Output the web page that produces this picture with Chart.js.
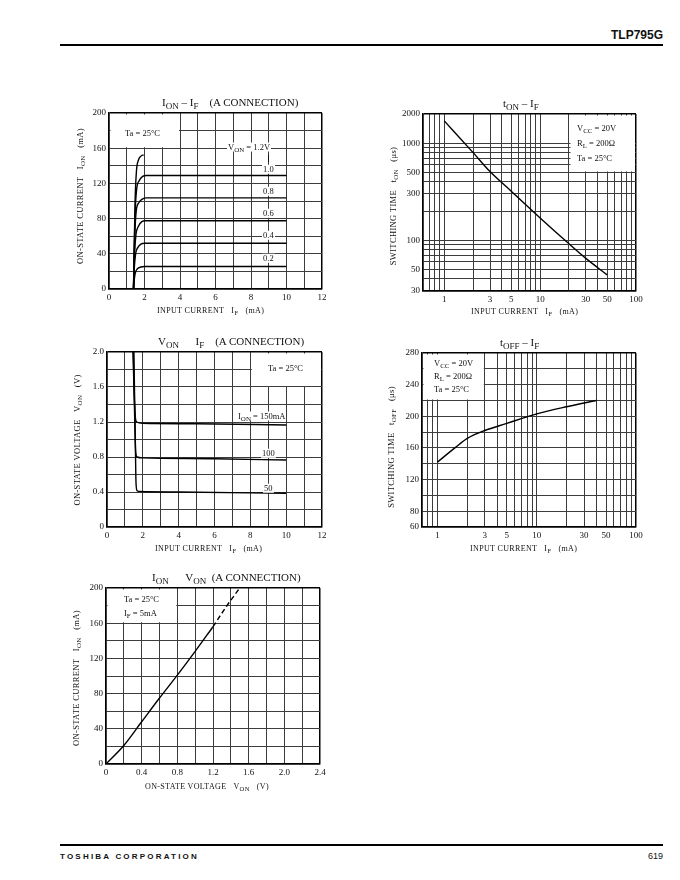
<!DOCTYPE html>
<html>
<head>
<meta charset="utf-8">
<script src="https://cdn.jsdelivr.net/npm/chart.js@4.4.1/dist/chart.umd.min.js"></script>
<style>
  html, body { margin: 0; padding: 0; background: #fff; }
  body { width: 680px; height: 880px; position: relative; overflow: hidden;
         font-family: "Liberation Serif", serif; color: #111; }
  canvas { position: absolute; }
  .abs  { position: absolute; white-space: nowrap; line-height: 1; }
  .ttl  { font-size: 11px; transform: translateY(-50%); }
  .xt   { font-size: 8px; letter-spacing: 0.35px; transform: translateY(-50%); }
  .yt   { font-size: 8.5px; letter-spacing: 0.35px; transform: translate(-50%, -50%) rotate(-90deg); }
  .note { font-size: 8.5px; transform: translateY(-50%); background: #fff; padding: 0 1px; }
  .s    { font-size: 0.82em; position: relative; top: 0.3em; }
  .rule { position: absolute; left: 60px; width: 603px; height: 2px; background: #000; }
  .head { position: absolute; right: 17px; top: 28px; font: bold 12px "Liberation Sans", sans-serif; }
  .foot { position: absolute; left: 60px; top: 852px; font: bold 8px "Liberation Sans", sans-serif; letter-spacing: 2.2px; }
  .page { position: absolute; right: 17px; top: 851px; font: 9px "Liberation Sans", sans-serif; }
</style>
</head>
<body>

<div class="head">TLP795G</div>
<div class="rule" style="top:44px"></div>
<div class="rule" style="top:844px"></div>
<div class="foot">TOSHIBA CORPORATION</div>
<div class="page">619</div>

<canvas id="c1" width="269" height="210" style="left:69px;top:103px"></canvas>
<canvas id="c2" width="269" height="211" style="left:383px;top:104px"></canvas>
<canvas id="c3" width="271" height="209" style="left:67px;top:342px"></canvas>
<canvas id="c4" width="270" height="208" style="left:382px;top:343px"></canvas>
<canvas id="c5" width="270" height="210" style="left:66px;top:578px"></canvas>

<!-- chart 1 text -->
<div class="abs ttl" style="left:162px;top:103px">I<span class="s">ON</span> – I<span class="s">F</span>&nbsp;&nbsp;&nbsp;&nbsp;(A CONNECTION)</div>
<div class="abs xt" style="left:157px;top:311px">INPUT CURRENT&nbsp;&nbsp;&nbsp;I<span class="s">F</span>&nbsp;&nbsp;&nbsp;(mA)</div>
<div class="abs yt" style="left:80px;top:196px">ON-STATE CURRENT&nbsp;&nbsp;&nbsp;I<span class="s">ON</span>&nbsp;&nbsp;&nbsp;(mA)</div>
<div class="abs note" style="left:124px;top:133px">Ta = 25°C</div>
<div class="abs note" style="left:227px;top:147px">V<span class="s">ON</span> = 1.2V</div>
<div class="abs" style="left:268px;top:155px;width:1px;height:7px;background:#111"></div>
<div class="abs note" style="left:262px;top:169px">1.0</div>
<div class="abs note" style="left:262px;top:191px">0.8</div>
<div class="abs note" style="left:262px;top:213px">0.6</div>
<div class="abs note" style="left:262px;top:235px">0.4</div>
<div class="abs note" style="left:262px;top:258px">0.2</div>

<!-- chart 2 text -->
<div class="abs ttl" style="left:503px;top:104px">t<span class="s">ON</span> – I<span class="s">F</span></div>
<div class="abs xt" style="left:471px;top:312px">INPUT CURRENT&nbsp;&nbsp;&nbsp;I<span class="s">F</span>&nbsp;&nbsp;&nbsp;(mA)</div>
<div class="abs yt" style="left:393px;top:206px">SWITCHING TIME&nbsp;&nbsp;&nbsp;t<span class="s">ON</span>&nbsp;&nbsp;&nbsp;(μs)</div>
<div class="abs note" style="left:576px;top:128px">V<span class="s">CC</span> = 20V</div>
<div class="abs note" style="left:576px;top:143px">R<span class="s">L</span> = 200Ω</div>
<div class="abs note" style="left:576px;top:158px">Ta = 25°C</div>

<!-- chart 3 text -->
<div class="abs ttl" style="left:158px;top:342px">V<span class="s">ON</span>&nbsp;&nbsp;&nbsp;&nbsp;&nbsp;&nbsp;I<span class="s">F</span>&nbsp;&nbsp;&nbsp;&nbsp;(A CONNECTION)</div>
<div class="abs xt" style="left:155px;top:549px">INPUT CURRENT&nbsp;&nbsp;&nbsp;I<span class="s">F</span>&nbsp;&nbsp;&nbsp;(mA)</div>
<div class="abs yt" style="left:77px;top:440px">ON-STATE VOLTAGE&nbsp;&nbsp;&nbsp;V<span class="s">ON</span>&nbsp;&nbsp;&nbsp;(V)</div>
<div class="abs note" style="left:267px;top:368px">Ta = 25°C</div>
<div class="abs note" style="left:237px;top:416px">I<span class="s">ON</span> = 150mA</div>
<div class="abs note" style="left:261px;top:453px">100</div>
<div class="abs note" style="left:263px;top:488px">50</div>

<!-- chart 4 text -->
<div class="abs ttl" style="left:500px;top:343px">t<span class="s">OFF</span> – I<span class="s">F</span></div>
<div class="abs xt" style="left:470px;top:549px">INPUT CURRENT&nbsp;&nbsp;&nbsp;I<span class="s">F</span>&nbsp;&nbsp;&nbsp;(mA)</div>
<div class="abs yt" style="left:391px;top:447px">SWITCHING TIME&nbsp;&nbsp;&nbsp;t<span class="s">OFF</span>&nbsp;&nbsp;&nbsp;(μs)</div>
<div class="abs note" style="left:433px;top:363px">V<span class="s">CC</span> = 20V</div>
<div class="abs note" style="left:433px;top:376px">R<span class="s">L</span> = 200Ω</div>
<div class="abs note" style="left:433px;top:389px">Ta = 25°C</div>

<!-- chart 5 text -->
<div class="abs ttl" style="left:152px;top:578px">I<span class="s">ON</span>&nbsp;&nbsp;&nbsp;&nbsp;&nbsp;&nbsp;V<span class="s">ON</span>&nbsp;&nbsp;(A CONNECTION)</div>
<div class="abs xt" style="left:145px;top:787px">ON-STATE VOLTAGE&nbsp;&nbsp;&nbsp;V<span class="s">ON</span>&nbsp;&nbsp;&nbsp;(V)</div>
<div class="abs yt" style="left:76px;top:678px">ON-STATE CURRENT&nbsp;&nbsp;&nbsp;I<span class="s">ON</span>&nbsp;&nbsp;&nbsp;(mA)</div>
<div class="abs note" style="left:123px;top:599px">Ta = 25°C</div>
<div class="abs note" style="left:123px;top:613px">I<span class="s">F</span> = 5mA</div>

<script>
// ── Data ────────────────────────────────────────────────────────────────────

// I_ON vs I_F, one curve per V_ON (V)
const ionIf02 = [[1.38, 0], [1.42, 10], [1.48, 18], [1.6, 23], [1.8, 25], [2.0, 25.5], [10, 25.5]];
const ionIf04 = [[1.38, 0], [1.43, 25], [1.5, 40], [1.62, 47], [1.8, 51], [2.0, 52], [10, 52]];
const ionIf06 = [[1.38, 0], [1.44, 40], [1.52, 62], [1.65, 71], [1.85, 76.5], [2.05, 77.5], [10, 77.5]];
const ionIf08 = [[1.38, 0], [1.45, 60], [1.53, 88], [1.68, 98], [1.9, 102.5], [2.1, 103.5], [10, 103.5]];
const ionIf10 = [[1.38, 0], [1.46, 80], [1.55, 112], [1.7, 123], [1.9, 128], [2.1, 129], [10, 129]];
const ionIf12 = [[1.38, 0], [1.47, 100], [1.55, 135], [1.65, 146], [1.8, 151], [1.95, 152.5]];

// t_ON vs I_F (log-log)
const tonIf = [[1, 1700], [2, 800], [3, 510], [5, 320], [10, 170], [20, 92], [30, 65], [50, 44]];

// V_ON vs I_F, one curve per I_ON (mA)
const vonIf150 = [[1.45, 2.0], [1.52, 1.5], [1.58, 1.26], [1.66, 1.2], [2.0, 1.185], [5, 1.18], [10, 1.165]];
const vonIf100 = [[1.47, 2.0], [1.55, 1.2], [1.6, 0.86], [1.68, 0.8], [2.0, 0.79], [6, 0.78], [10, 0.765]];
const vonIf50  = [[1.5, 2.0], [1.58, 1.0], [1.62, 0.5], [1.68, 0.415], [1.85, 0.405], [4, 0.4], [10, 0.385]];

// t_OFF vs I_F (log x)
const toffIf = [[1, 142], [1.5, 160], [2, 172], [3, 182], [5, 191], [7, 197], [10, 203], [20, 212], [40, 220]];

// I_ON vs V_ON — solid part, then the dashed extrapolation
const ionVonSolid = [[0, 0], [0.2, 21], [0.4, 48], [0.6, 75], [0.8, 101], [1.0, 128], [1.2, 156]];
const ionVonDash  = [[1.2, 156], [1.35, 179], [1.5, 200]];

// ── Tick labels / grid lines ────────────────────────────────────────────────

const ifLinLabels = [0, 2, 4, 6, 8, 10, 12];
const ionLabels   = [0, 40, 80, 120, 160, 200];
const vonYVals    = [0, 0.4, 0.8, 1.2, 1.6, 2.0];
const vonYText    = ["0", "0.4", "0.8", "1.2", "1.6", "2.0"];
const vonXVals    = [0, 0.4, 0.8, 1.2, 1.6, 2.0, 2.4];
const vonXText    = ["0", "0.4", "0.8", "1.2", "1.6", "2.0", "2.4"];
const ifLogLabels = [1, 3, 5, 10, 30, 50, 100];
const ifLogGridA  = [0.6, 0.7, 0.8, 0.9, 1, 2, 3, 4, 5, 6, 7, 8, 9, 10, 20, 30, 40, 50, 60, 70, 80, 90, 100];
const ifLogGridB  = [0.7, 0.8, 0.9, 1, 2, 3, 4, 5, 6, 7, 8, 9, 10, 20, 30, 40, 50, 60, 70, 80, 90, 100];
const tonGrid     = [30, 40, 50, 60, 70, 80, 90, 100, 200, 300, 400, 500, 600, 700, 800, 900, 1000, 2000];
const tonLabels   = [30, 50, 100, 300, 500, 1000, 2000];
const toffLabels  = [60, 80, 120, 160, 200, 240, 280];

// ── Helpers ─────────────────────────────────────────────────────────────────

// paints white "clear" areas of the grid (where the datasheet has its notes)
const clearBox = {
  id: "clearBox",
  beforeDatasetsDraw(chart, args, opts) {
    if (!opts.boxes) return;
    const { ctx, scales: { x, y } } = chart;
    ctx.save();
    ctx.fillStyle = "#fff";
    opts.boxes.forEach(b => {
      const l = x.getPixelForValue(b[0]) + 1.5, r = x.getPixelForValue(b[1]) - 1;
      const t = y.getPixelForValue(b[3]) + 1.5, btm = y.getPixelForValue(b[2]) - 1;
      ctx.fillRect(l, t, r - l, btm - t);
    });
    ctx.restore();
  }
};
Chart.register(clearBox);

const near = (a, b) => Math.abs(a - b) < 1e-6 * Math.max(1, Math.abs(b));

function axis(type, min, max, opts) {
  const vals = opts.vals, texts = opts.texts || opts.vals.map(String);
  const edge = c => c.tick && (near(c.tick.value, min) || near(c.tick.value, max));
  const a = {
    type, min, max,
    border: { display: true, color: "#000", width: 1.5 },
    grid: {
      drawTicks: false,
      color: c => edge(c) ? "#000" : "#3c3c3c",
      lineWidth: c => edge(c) ? 1.5 : 1
    },
    ticks: {
      autoSkip: false, maxRotation: 0, minRotation: 0, padding: 3, color: "#111",
      font: { family: "Liberation Serif", size: 9 },
      callback: v => {
        const i = vals.findIndex(t => near(v, t));
        return i < 0 ? "" : texts[i];
      }
    },
    afterFit: s => { if (s.isHorizontal()) s.height = 24; else s.width = 40; }
  };
  if (opts.step) a.ticks.stepSize = opts.step;
  if (opts.grid) a.afterBuildTicks = s => { s.ticks = opts.grid.map(v => ({ value: v })); };
  return a;
}

function line(pts, dash) {
  return {
    data: pts.map(([x, y]) => ({ x, y })),
    borderColor: "#000", borderWidth: 1.4, borderDash: dash || [],
    pointRadius: 0, fill: false, cubicInterpolationMode: "monotone"
  };
}

function mkChart(id, datasets, x, y, boxes) {
  return new Chart(document.getElementById(id), {
    type: "line",
    data: { datasets },
    options: {
      responsive: false, animation: false, events: [],
      layout: { padding: { left: 0, top: 10, right: 16, bottom: 0 } },
      plugins: { legend: { display: false }, tooltip: { enabled: false }, clearBox: { boxes } },
      scales: { x, y }
    }
  });
}

// ── Charts ──────────────────────────────────────────────────────────────────

mkChart("c1",
  [ionIf02, ionIf04, ionIf06, ionIf08, ionIf10, ionIf12].map(d => line(d)),
  axis("linear", 0, 12, { step: 1, vals: ifLinLabels }),
  axis("linear", 0, 200, { step: 20, vals: ionLabels }),
  [[0, 4, 160, 200]]);

mkChart("c2",
  [line(tonIf)],
  axis("logarithmic", 0.6, 100, { grid: ifLogGridA, vals: ifLogLabels }),
  axis("logarithmic", 30, 2000, { grid: tonGrid, vals: tonLabels }),
  [[20, 100, 500, 2000]]);

mkChart("c3",
  [vonIf150, vonIf100, vonIf50].map(d => line(d)),
  axis("linear", 0, 12, { step: 1, vals: ifLinLabels }),
  axis("linear", 0, 2, { step: 0.2, vals: vonYVals, texts: vonYText }),
  [[8, 12, 1.6, 2.0]]);

mkChart("c4",
  [line(toffIf)],
  axis("logarithmic", 0.7, 100, { grid: ifLogGridB, vals: ifLogLabels }),
  axis("linear", 60, 280, { step: 20, vals: toffLabels }),
  [[0.7, 3, 220, 280]]);

mkChart("c5",
  [line(ionVonSolid), line(ionVonDash, [5, 3])],
  axis("linear", 0, 2.4, { step: 0.2, vals: vonXVals, texts: vonXText }),
  axis("linear", 0, 200, { step: 20, vals: ionLabels }),
  [[0, 0.8, 160, 200]]);
</script>
</body>
</html>
